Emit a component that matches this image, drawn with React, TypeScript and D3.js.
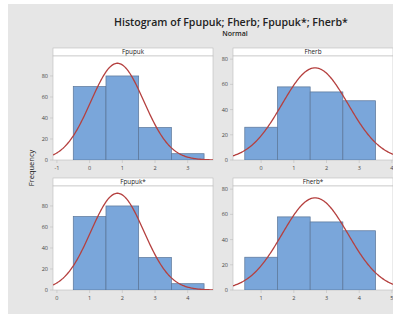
import React from 'react';
import * as d3 from 'd3';

const W = 393;
const H = 314;

// bin counts (bin width 1)
const fpupukCounts = [70, 80, 31, 6];
const fherbCounts = [26, 58, 54, 47];
const fpupukStarCounts = [70, 80, 31, 6];
const fherbStarCounts = [26, 58, 54, 47];

// first bin left edge for each variable
const binStarts = [-0.5, -0.5, 0.5, 0.5];

// fitted normal parameters
const means = [0.85, 1.65, 1.85, 2.65];
const sds = [0.81, 1.01, 0.81, 1.01];

const panelNames = ['Fpupuk', 'Fherb', 'Fpupuk*', 'Fherb*'];
const xTickSets = [
  [-1, 0, 1, 2, 3],
  [0, 1, 2, 3, 4],
  [0, 1, 2, 3, 4],
  [1, 2, 3, 4, 5],
];
const yTicks = [0, 20, 40, 60, 80];
const xMins = [-1.12, -0.86, -0.12, 0.14];
const yMaxes = [99, 82.5, 99, 82.5];

const FONT = '"Open Sans", "Noto Sans", sans-serif';
const PX_PER_UNIT = 32.7;
const PW = 160;
const PH = 104;
const lefts = [53, 233, 53, 233];
const tops = [56, 56, 186, 186];

function Panel({ i }: { i: number }) {
  const counts = [fpupukCounts, fherbCounts, fpupukStarCounts, fherbStarCounts][i];
  const left = lefts[i];
  const top = tops[i];
  const x = d3
    .scaleLinear()
    .domain([xMins[i], xMins[i] + PW / PX_PER_UNIT])
    .range([left, left + PW]);
  const y = d3.scaleLinear().domain([0, yMaxes[i]]).range([top + PH, top]);

  const n = d3.sum(counts);
  const mu = means[i];
  const sd = sds[i];
  const dens = (v: number) =>
    (n / (sd * Math.sqrt(2 * Math.PI))) * Math.exp(-0.5 * ((v - mu) / sd) ** 2);
  const [x0, x1] = x.domain();
  const curvePts = d3.range(0, 201).map((k) => x0 + ((x1 - x0) * k) / 200);
  const line = d3
    .line<number>()
    .x((v) => x(v))
    .y((v) => y(dens(v)));

  const clipId = `clip${i}`;
  const axisColor = '#bdbdbd';
  const labelColor = '#444';

  return (
    <g>
      <defs>
        <clipPath id={clipId}>
          <rect x={left} y={top} width={PW} height={PH} />
        </clipPath>
      </defs>
      {/* header strip */}
      <rect x={left} y={top - 8} width={PW} height={8} fill="#fff" stroke={axisColor} strokeWidth={0.6} />
      <text
        x={left + PW / 2}
        y={top - 2}
        textAnchor="middle"
        fontSize={6.3}
        fontFamily={FONT}
        fill="#222"
      >
        {panelNames[i]}
      </text>
      {/* plot area */}
      <rect x={left} y={top} width={PW} height={PH} fill="#fff" stroke={axisColor} strokeWidth={0.6} />
      <g clipPath={`url(#${clipId})`}>
        {counts.map((c, k) => (
          <rect
            key={k}
            x={x(binStarts[i] + k)}
            y={y(c)}
            width={x(binStarts[i] + k + 1) - x(binStarts[i] + k)}
            height={y(0) - y(c)}
            fill="#7aa6da"
            stroke="#5a7597"
            strokeWidth={0.7}
          />
        ))}
        <path d={line(curvePts) || ''} fill="none" stroke="#b5403f" strokeWidth={1.3} />
      </g>
      {/* y axis */}
      {yTicks.map((t) => (
        <g key={t}>
          <line x1={left - 3} x2={left} y1={y(t)} y2={y(t)} stroke={axisColor} strokeWidth={0.6} />
          <text
            x={left - 5}
            y={y(t)}
            dy="0.35em"
            textAnchor="end"
            fontSize={5.5}
            fontFamily={FONT}
            fill={labelColor}
          >
            {t}
          </text>
        </g>
      ))}
      {/* x axis */}
      {xTickSets[i].map((t) => (
        <g key={t}>
          <line x1={x(t)} x2={x(t)} y1={top + PH} y2={top + PH + 3} stroke={axisColor} strokeWidth={0.6} />
          <text
            x={x(t)}
            y={top + PH + 10}
            textAnchor="middle"
            fontSize={5.5}
            fontFamily={FONT}
            fill={labelColor}
          >
            {t}
          </text>
        </g>
      ))}
    </g>
  );
}

export default function App() {
  return (
    <div style={{ position: 'absolute', left: 0, top: 0 }}>
      <svg width={W} height={H} style={{ display: 'block' }}>
        <rect x={0} y={0} width={W} height={H} fill="#fff" />
        <rect x={8} y={4} width={W - 8} height={H - 4} fill="#e6e6e6" />
        <text x={114} y={26} fontSize={10.6} fontWeight={600} fontFamily={FONT} fill="#222">
          Histogram of Fpupuk; Fherb; Fpupuk*; Fherb*
        </text>
        <text x={235} y={36} textAnchor="middle" fontSize={7} fontWeight={600} fontFamily={FONT} fill="#222">
          Normal
        </text>
        <text
          transform="translate(34,168) rotate(-90)"
          textAnchor="middle"
          fontSize={7.5}
          fontFamily={FONT}
          fill="#222"
        >
          Frequency
        </text>
        {[0, 1, 2, 3].map((i) => (
          <Panel key={i} i={i} />
        ))}
      </svg>
    </div>
  );
}
